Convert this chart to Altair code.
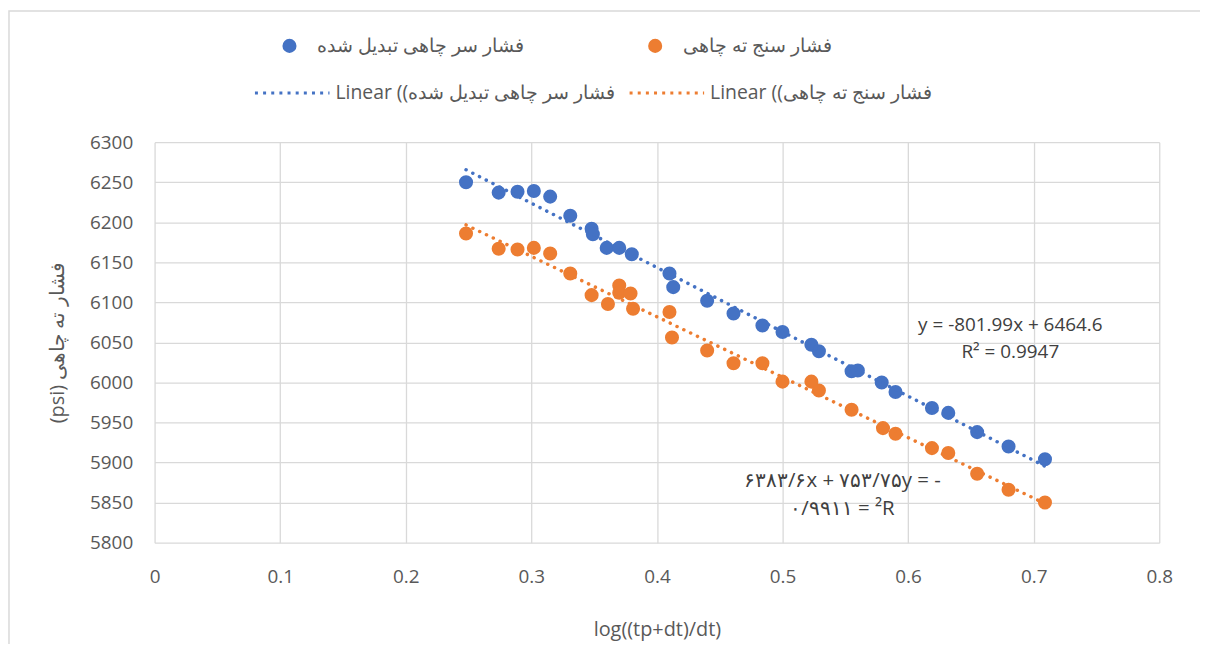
import altair as alt
import pandas as pd

# ---- data ----
blue_name = "فشار سر چاهی تبدیل شده"
orange_name = "فشار سنج ته چاهی"
trend_prefix = "Linear (("

blue_x = [0.248, 0.274, 0.289, 0.302, 0.315, 0.331, 0.348, 0.349, 0.360, 0.370,
          0.380, 0.410, 0.413, 0.440, 0.461, 0.484, 0.500, 0.523, 0.529, 0.555,
          0.560, 0.579, 0.590, 0.619, 0.632, 0.655, 0.680, 0.709]
blue_y = [6250, 6237, 6238, 6239, 6232, 6208, 6192, 6185, 6168, 6168,
          6160, 6136, 6119, 6102, 6086, 6071, 6063, 6047, 6039, 6014,
          6015, 6000, 5988, 5968, 5962, 5938, 5920, 5904]

orange_x = [0.248, 0.274, 0.289, 0.302, 0.315, 0.331, 0.348, 0.361, 0.370, 0.370,
            0.379, 0.381, 0.410, 0.412, 0.440, 0.461, 0.484, 0.500, 0.523, 0.529,
            0.555, 0.580, 0.590, 0.619, 0.632, 0.655, 0.680, 0.709]
orange_y = [6186, 6167, 6166, 6168, 6161, 6136, 6109, 6098, 6121, 6112,
            6111, 6092, 6088, 6056, 6040, 6024, 6024, 6001, 6001, 5990,
            5966, 5943, 5936, 5918, 5912, 5886, 5866, 5850]

x_ticks = [0, 0.1, 0.2, 0.3, 0.4, 0.5, 0.6, 0.7, 0.8]
y_ticks = [5800, 5850, 5900, 5950, 6000, 6050, 6100, 6150, 6200, 6250, 6300]

ann_text = ["y = -801.99x + 6464.6", "R² = 0.9947",
            "۶۳۸۳/۶x + ۷۵۳/۷۵y = -", "۰/۹۹۱۱ = ²R"]
ann_x = [0.6814, 0.6814, 0.5477, 0.5477]
ann_y = [6071.7, 6038.2, 5876.9, 5842.2]
ann_size = [19, 19, 20.5, 20.5]

BLUE = "#4472C4"
ORANGE = "#ED7D31"
GRID = "#d9d9d9"
TXT = "#595959"
FONT = "Open Sans"

rows = []
for name, xs, ys in [(blue_name, blue_x, blue_y), (orange_name, orange_x, orange_y)]:
    for xv, yv in zip(xs, ys):
        rows.append({"x": xv, "y": yv, "series": name, "trend": trend_prefix + name})
df = pd.DataFrame(rows)
ann = pd.DataFrame({"label": ann_text, "x": ann_x, "y": ann_y, "fs": ann_size})

xscale = alt.Scale(domain=[0, 0.8], nice=False, zero=False)
yscale = alt.Scale(domain=[5800, 6300], nice=False, zero=False)

x_enc = alt.X("x:Q", scale=xscale,
              axis=alt.Axis(values=x_ticks, format="~g", title="log((tp+dt)/dt)",
                            labelPadding=25, titlePadding=33, labelFlush=False))
y_enc = alt.Y("y:Q", scale=yscale,
              axis=alt.Axis(values=y_ticks, format="d", title="(psi) فشار ته چاهی",
                            labelPadding=22, titlePadding=22))

base = alt.Chart(df)

points = base.mark_circle(size=200, opacity=1).encode(
    x=x_enc, y=y_enc,
    fill=alt.Fill("series:N",
                  scale=alt.Scale(domain=[blue_name, orange_name], range=[BLUE, ORANGE]),
                  legend=alt.Legend(orient="none", legendX=126, legendY=-107,
                                    direction="horizontal", title=None,
                                    symbolType="circle", symbolSize=200,
                                    symbolStrokeWidth=0, labelOffset=18,
                                    columnPadding=110, labelFontSize=19.5,
                                    labelColor=TXT, labelFont=FONT, labelLimit=400)),
)

lines = base.transform_regression("x", "y", groupby=["trend"]).mark_line(
    strokeDash=[0.1, 7.5], strokeCap="round", strokeWidth=3.5
).encode(
    x="x:Q", y="y:Q",
    stroke=alt.Stroke("trend:N",
                      scale=alt.Scale(domain=[trend_prefix + blue_name, trend_prefix + orange_name],
                                      range=[BLUE, ORANGE]),
                      legend=alt.Legend(orient="none", legendX=99, legendY=-89,
                                        direction="horizontal", title=None,
                                        symbolType="stroke", symbolSize=5625,
                                        symbolStrokeWidth=3.2, symbolDash=[3, 5.2],
                                        labelOffset=4, columnPadding=-36,
                                        labelFontSize=19.5, labelColor=TXT,
                                        labelFont=FONT, labelLimit=400)),
)

labels = alt.Chart(ann).mark_text(font=FONT, color="#404040",
                                  align="center", baseline="middle").encode(
    x="x:Q", y="y:Q", text="label:N", size=alt.Size("fs:Q", scale=None))

border = alt.Chart(pd.DataFrame({"k": [0]})).mark_rect(
    fillOpacity=0, stroke=GRID, strokeWidth=1.5
).encode(x=alt.value(-146.5), x2=alt.value(1060), y=alt.value(-132), y2=alt.value(540))

chart = alt.layer(border, points, lines, labels).resolve_scale(
    fill="independent", stroke="independent"
).properties(
    width=1011, height=403,
    padding={"left": 147.5, "top": 133, "right": 41, "bottom": 100},
    autosize=alt.AutoSizeParams(type="none"),
    background="white",
).configure_view(stroke="transparent").configure_axis(
    grid=True, gridColor=GRID, gridWidth=1.3, domain=False, ticks=False,
    labelColor=TXT, labelFont=FONT, labelFontSize=19,
    titleColor=TXT, titleFont=FONT, titleFontSize=20, titleFontWeight="normal",
)

chart.save("out.html", embed_options={"renderer": "svg", "actions": False})
